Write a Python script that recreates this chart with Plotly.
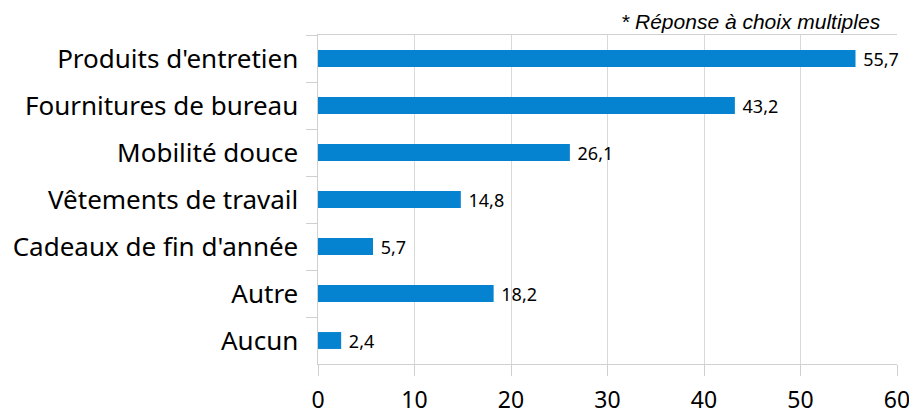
import plotly.graph_objects as go

categories = ["Produits d'entretien", "Fournitures de bureau", "Mobilité douce",
              "Vêtements de travail", "Cadeaux de fin d'année", "Autre", "Aucun"]
values = [55.7, 43.2, 26.1, 14.8, 5.7, 18.2, 2.4]
x_ticks = [0, 10, 20, 30, 40, 50, 60]
note = "* Réponse à choix multiples"

fig = go.Figure(go.Bar(
    x=values, y=categories, orientation="h",
    marker=dict(color="#0683D0", line=dict(width=0)),
    texttemplate=" %{x:.1f}", textposition="outside",
    textfont=dict(family="Noto Sans", size=18, color="#000000"),
    constraintext="none",
    cliponaxis=False,
    hoverinfo="skip",
))

fig.update_layout(
    width=909, height=414,
    margin=dict(l=318, r=12, t=35, b=50),
    paper_bgcolor="white", plot_bgcolor="white",
    separators=", ",
    bargap=0.64,
    showlegend=False,
    font=dict(family="Noto Sans", color="#000000"),
    xaxis=dict(
        range=[0, 60], tickvals=x_ticks,
        showgrid=True, gridcolor="#D9D9D9", gridwidth=1,
        showline=True, linecolor="#D0D0D0", linewidth=1, mirror=True,
        ticks="outside", ticklen=11, tickcolor="#D0D0D0",
        tickfont=dict(family="Noto Sans", size=23, color="#000000"),
        zeroline=False, automargin=False,
        ticklabeloverflow="allow", ticklabelstandoff=4,
    ),
    yaxis=dict(
        categoryorder="array", categoryarray=categories, autorange="reversed",
        tickson="boundaries", ticks="outside", ticklen=11, tickcolor="#D0D0D0",
        showgrid=False, showline=True, linecolor="#D0D0D0", linewidth=1,
        tickfont=dict(family="Noto Sans", size=26, color="#000000"),
        ticksuffix="  ", automargin=False,
    ),
    annotations=[dict(
        text="<i>" + note + "</i>", xref="paper", yref="paper", x=0.976, y=1.0,
        xanchor="right", yanchor="bottom", yshift=0, showarrow=False,
        font=dict(family="Liberation Sans", size=21, color="#000000"),
    )],
)

fig.write_html(
    "out.html",
    config={"displayModeBar": False},
    post_script="document.body.style.margin='0';document.body.style.overflow='hidden';",
)
